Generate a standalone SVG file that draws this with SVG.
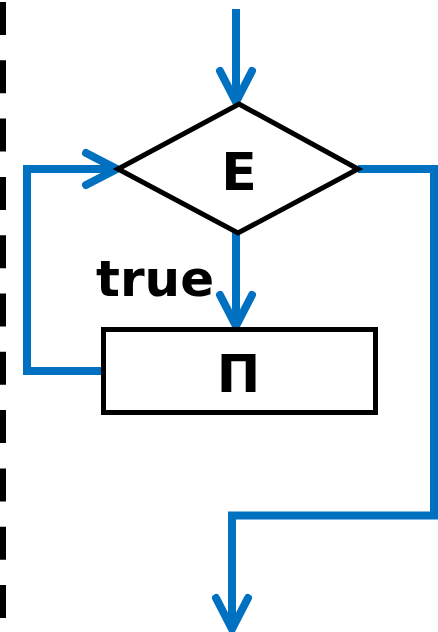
<svg xmlns="http://www.w3.org/2000/svg" width="438" height="632" viewBox="0 0 438 632">
  <style>
    .flow { fill: none; stroke: #0070C0; stroke-width: 8; stroke-linejoin: miter; stroke-linecap: butt; }
    .shape { fill: #ffffff; stroke: #000000; stroke-width: 5; }
    .label { font-family: "DejaVu Sans", "Liberation Sans", sans-serif; font-weight: bold; fill: #000000; }
    .border { stroke: #000000; stroke-width: 6; stroke-dasharray: 33 25.3; }
  </style>
  <defs>
    <marker id="arrow" markerUnits="userSpaceOnUse" markerWidth="50" markerHeight="50" viewBox="-40 -25 50 50" refX="0" refY="0" orient="auto" overflow="visible">
      <path d="M -31 -16 L 0 0 L -31 16" fill="none" stroke="#0070C0" stroke-width="8" stroke-linecap="round" stroke-linejoin="round"/>
    </marker>
  </defs>
  <rect width="438" height="632" fill="#ffffff"/>

  <!-- dashed boundary on the left -->
  <line class="border" x1="3" y1="2" x2="3" y2="632"/>

  <g id="connectors">
    <path class="flow" d="M236 9 L236 102" marker-end="url(#arrow)"/>
    <path class="flow" d="M236 232 L236 326" marker-end="url(#arrow)"/>
    <path class="flow" d="M103 371 L27 371 L27 169 L117 169" marker-end="url(#arrow)"/>
    <path class="flow" d="M358 169 L434 169 L434 515.5 L232 515.5 L232 629" marker-end="url(#arrow)"/>
  </g>

  <g id="condition">
    <polygon class="shape" points="239,104 358,169 238,233 118,169"/>
    <text class="label" x="239" y="190" font-size="52" text-anchor="middle">E</text>
  </g>

  <g id="body">
    <rect class="shape" x="103.5" y="329.5" width="272" height="83"/>
    <text class="label" x="238.5" y="392" font-size="52" text-anchor="middle">П</text>
  </g>

  <g id="true-label">
    <text class="label" x="96" y="296" font-size="50">true</text>
  </g>
</svg>
